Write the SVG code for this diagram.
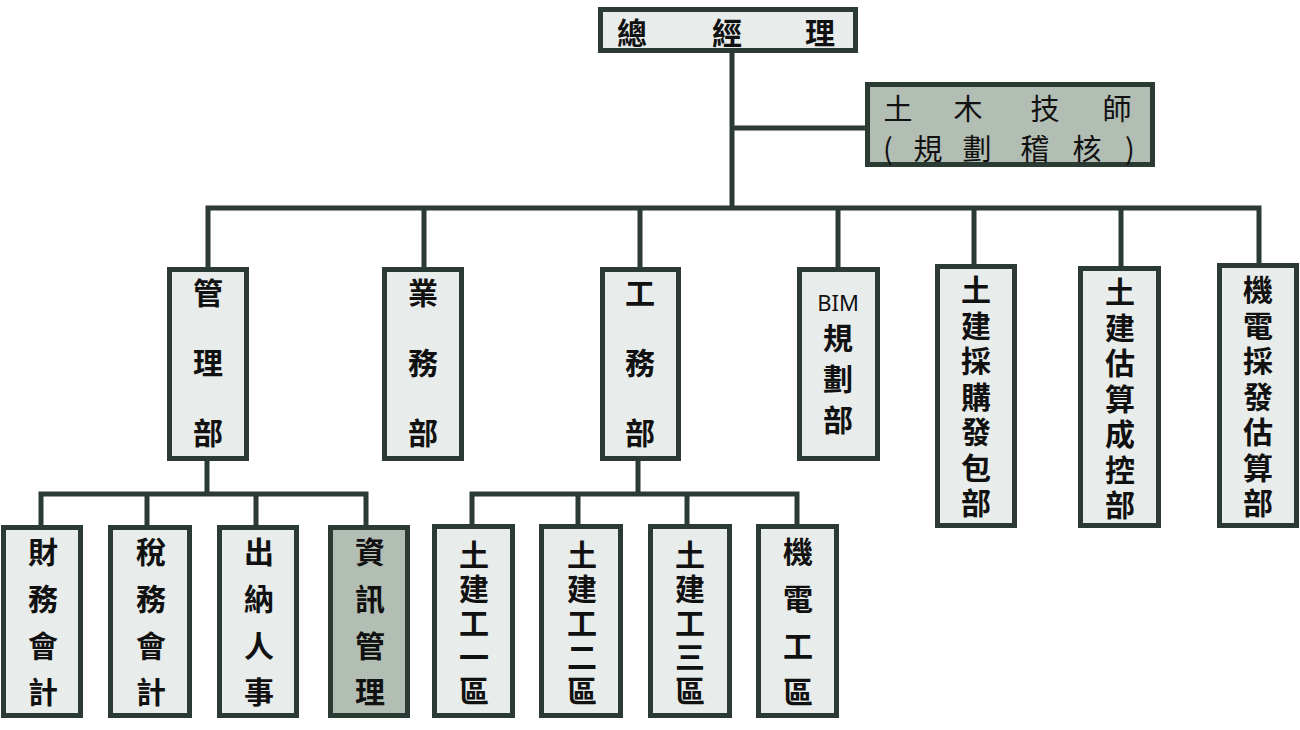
<svg xmlns="http://www.w3.org/2000/svg" width="1300" height="730" viewBox="0 0 1300 730">
<style>
.box{fill:#e8ecea;stroke:#2b3a33;stroke-width:5}
.gray{fill:#b2bdb3;stroke:#2b3a33;stroke-width:5}
.conn{stroke:#2b3a33;stroke-width:5;fill:none;stroke-linecap:square}
text{font-family:"Noto Sans CJK TC","Noto Sans CJK SC",sans-serif;fill:#111;font-size:30px;font-weight:bold}
.h{text-anchor:middle;dominant-baseline:central}
.v{writing-mode:vertical-rl;text-anchor:start}
.thin{font-weight:normal;font-size:29px}
.lat{font-family:"Noto Sans","Liberation Sans",sans-serif;font-size:22px;font-weight:normal}
.s3{letter-spacing:40px}
.s4{letter-spacing:16.7px}
.s5{letter-spacing:4px}
.s7{letter-spacing:5.5px}
.sb{letter-spacing:11px}
</style>
<rect width="1300" height="730" fill="#fff"/>
<g id="connectors">
<path class="conn" d="M732,53V208M732,128H865M208,208H1259M208,208V267M424,208V267M640,208V267M838,208V267M974,208V264M1121,208V266M1259,208V263"/>
<path class="conn" d="M207,461V494M41,494H366M41,494V525M147,494V525M256,494V525M366,494V525"/>
<path class="conn" d="M638,461V494M472,494H797M472,494V524M578,494V524M687,494V524M797,494V524"/>
</g>
<g id="n-gm"><rect class="box" x="600.5" y="9.5" width="255" height="41"/>
<text class="h" x="632 727 820" y="31">總經理</text></g>
<g id="n-eng"><rect class="gray" x="867.5" y="84.5" width="285" height="80"/>
<text class="h thin" x="898 968 1045 1117" y="107">土木技師</text>
<text class="h thin" x="888 928 977 1035 1087 1130" y="147">(規劃稽核)</text></g>
<g id="n-mgmt"><rect class="box" x="169.5" y="269.5" width="77" height="189"/>
<text class="v s3" x="208" y="278">管理部</text></g>
<g id="n-biz"><rect class="box" x="384.5" y="269.5" width="77" height="189"/>
<text class="v s3" x="423" y="278">業務部</text></g>
<g id="n-eng-dept"><rect class="box" x="602.5" y="269.5" width="76" height="189"/>
<text class="v s3" x="640" y="278">工務部</text></g>
<g id="n-bim"><rect class="box" x="799.5" y="269.5" width="78" height="189"/>
<text class="h lat" x="838" y="302">BIM</text>
<text class="v sb" x="838" y="323">規劃部</text></g>
<g id="n-proc"><rect class="box" x="937.5" y="266.5" width="77" height="259"/>
<text class="v s7" x="976" y="275">土建採購發包部</text></g>
<g id="n-cost"><rect class="box" x="1080.5" y="268.5" width="78" height="257"/>
<text class="v s7" x="1120" y="277">土建估算成控部</text></g>
<g id="n-mep"><rect class="box" x="1219.5" y="265.5" width="77" height="260"/>
<text class="v s7" x="1258" y="275">機電採發估算部</text></g>
<g id="n-fin"><rect class="box" x="3.5" y="527.5" width="77" height="188"/>
<text class="v s4" x="43" y="537">財務會計</text></g>
<g id="n-tax"><rect class="box" x="110.5" y="527.5" width="79" height="188"/>
<text class="v s4" x="151" y="537">稅務會計</text></g>
<g id="n-hr"><rect class="box" x="219.5" y="527.5" width="77" height="188"/>
<text class="v s4" x="259" y="537">出納人事</text></g>
<g id="n-it"><rect class="gray" x="330.5" y="527.5" width="77" height="188"/>
<text class="v s4" x="370" y="537">資訊管理</text></g>
<g id="n-z1"><rect class="box" x="434.5" y="526.5" width="78" height="189"/>
<text class="v s5" x="474" y="540">土建工一區</text></g>
<g id="n-z2"><rect class="box" x="541.5" y="526.5" width="79" height="189"/>
<text class="v s5" x="582" y="540">土建工二區</text></g>
<g id="n-z3"><rect class="box" x="650.5" y="526.5" width="79" height="189"/>
<text class="v s5" x="690" y="540">土建工三區</text></g>
<g id="n-zm"><rect class="box" x="758.5" y="526.5" width="78" height="189"/>
<text class="v s4" x="798" y="537">機電工區</text></g>
</svg>
